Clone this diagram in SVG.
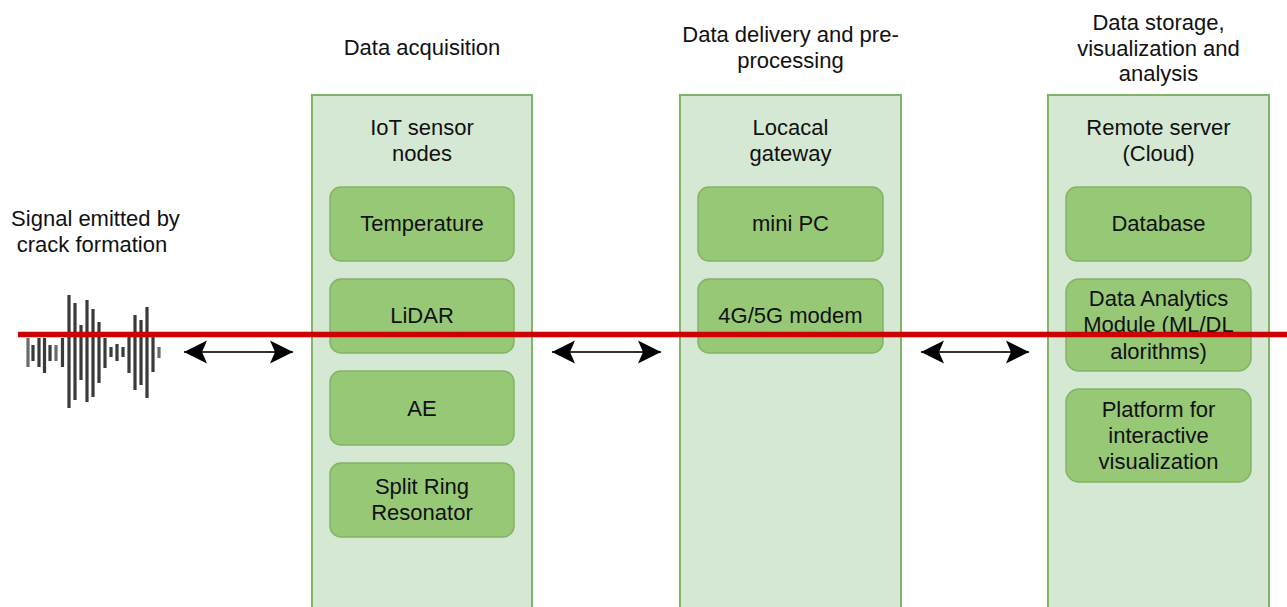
<svg xmlns="http://www.w3.org/2000/svg" width="1287" height="607" viewBox="0 0 1287 607">
  <defs>
    <style>
      text { font-family: "Liberation Sans", Arial, Helvetica, sans-serif; font-size: 22px; fill: #111; text-anchor: middle; }
      .lane { fill: #d5e8d4; stroke: #82b366; stroke-width: 2; }
      .box { fill: #97c876; stroke: #82b366; stroke-width: 1.5; }
      .link { stroke: #333; stroke-width: 2; fill: none; marker-start: url(#head); marker-end: url(#head); }
      .bar { stroke: #3a3a3a; stroke-width: 3.2; stroke-linecap: butt; }
      .bar.lt { stroke: #6a6a6a; }
    </style>
    <marker id="head" viewBox="-24 -12 26 24" refX="0" refY="0" markerWidth="26" markerHeight="24" markerUnits="userSpaceOnUse" orient="auto-start-reverse">
      <path d="M0,0 L-23,-11.5 L-18,0 L-23,11.5 Z" fill="#000"/>
    </marker>
  </defs>
  <rect width="1287" height="607" fill="#fff"/>

  <!-- signal source: acoustic burst -->
  <g id="signal">
    <text x="95.5" y="226">Signal emitted by</text>
    <text x="92" y="252">crack formation</text>
    <g id="waveform">
      <line class="bar lt" x1="28" y1="338" x2="28" y2="367"/>
      <line class="bar" x1="33" y1="345" x2="33" y2="361"/>
      <line class="bar" x1="39" y1="338" x2="39" y2="367"/>
      <line class="bar" x1="44.5" y1="338" x2="44.5" y2="373"/>
      <line class="bar" x1="50" y1="345" x2="50" y2="361"/>
      <line class="bar lt" x1="56" y1="345" x2="56" y2="361"/>
      <line class="bar" x1="62.5" y1="338" x2="62.5" y2="367"/>
      <line class="bar" x1="69" y1="295" x2="69" y2="408"/>
      <line class="bar" x1="75" y1="303" x2="75" y2="400"/>
      <line class="bar" x1="81" y1="325" x2="81" y2="380"/>
      <line class="bar" x1="87" y1="300" x2="87" y2="402"/>
      <line class="bar" x1="93" y1="309" x2="93" y2="397"/>
      <line class="bar" x1="99" y1="322" x2="99" y2="383"/>
      <line class="bar" x1="105" y1="338" x2="105" y2="368"/>
      <line class="bar" x1="111" y1="347" x2="111" y2="357"/>
      <line class="bar" x1="117" y1="344" x2="117" y2="361"/>
      <line class="bar" x1="123" y1="347" x2="123" y2="357"/>
      <line class="bar" x1="129" y1="337" x2="129" y2="373"/>
      <line class="bar" x1="135" y1="315" x2="135" y2="390"/>
      <line class="bar" x1="141" y1="320" x2="141" y2="385"/>
      <line class="bar" x1="147" y1="307" x2="147" y2="398"/>
      <line class="bar" x1="153" y1="337" x2="153" y2="372"/>
      <line class="bar lt" x1="159" y1="347" x2="159" y2="358"/>
    </g>
  </g>

  <!-- stage 1: data acquisition -->
  <g id="acquisition">
    <text x="422" y="55">Data acquisition</text>
    <rect class="lane" x="312" y="95" width="220" height="520"/>
    <text x="422" y="134.5">IoT sensor</text>
    <text x="422" y="161">nodes</text>
  </g>
  <g id="temperature">
    <rect class="box" x="330" y="187" width="184" height="74" rx="11"/>
    <text x="422" y="231">Temperature</text>
  </g>
  <g id="lidar">
    <rect class="box" x="330" y="279" width="184" height="74" rx="11"/>
    <text x="422" y="323">LiDAR</text>
  </g>
  <g id="ae">
    <rect class="box" x="330" y="371" width="184" height="74" rx="11"/>
    <text x="422" y="415.5">AE</text>
  </g>
  <g id="srr">
    <rect class="box" x="330" y="463" width="184" height="74" rx="11"/>
    <text x="422" y="494">Split Ring</text>
    <text x="422" y="520">Resonator</text>
  </g>

  <!-- stage 2: data delivery -->
  <g id="delivery">
    <text x="790.5" y="42">Data delivery and pre-</text>
    <text x="790.5" y="68">processing</text>
    <rect class="lane" x="680" y="95" width="221" height="520"/>
    <text x="790.5" y="134.5">Locacal</text>
    <text x="790.5" y="161">gateway</text>
  </g>
  <g id="minipc">
    <rect class="box" x="698" y="187" width="185" height="74" rx="11"/>
    <text x="790.5" y="231">mini PC</text>
  </g>
  <g id="modem">
    <rect class="box" x="698" y="279" width="185" height="74" rx="11"/>
    <text x="790.5" y="323">4G/5G modem</text>
  </g>

  <!-- stage 3: storage and analysis -->
  <g id="storage">
    <text x="1158.5" y="30">Data storage,</text>
    <text x="1158.5" y="55.5">visualization and</text>
    <text x="1158.5" y="81">analysis</text>
    <rect class="lane" x="1048" y="95" width="221" height="520"/>
    <text x="1158.5" y="134.5">Remote server</text>
    <text x="1158.5" y="161">(Cloud)</text>
  </g>
  <g id="database">
    <rect class="box" x="1066" y="187" width="185" height="74" rx="11"/>
    <text x="1158.5" y="231">Database</text>
  </g>
  <g id="analytics">
    <rect class="box" x="1066" y="279" width="185" height="92" rx="13"/>
    <text x="1158.5" y="305.5">Data Analytics</text>
    <text x="1158.5" y="332">Module (ML/DL</text>
    <text x="1158.5" y="358.5">alorithms)</text>
  </g>
  <g id="platform">
    <rect class="box" x="1066" y="389" width="185" height="93" rx="13"/>
    <text x="1158.5" y="416.5">Platform for</text>
    <text x="1158.5" y="443">interactive</text>
    <text x="1158.5" y="469">visualization</text>
  </g>

  <!-- connectors -->
  <g id="connectors">
    <line class="link" x1="184" y1="352" x2="293" y2="352"/>
    <line class="link" x1="552" y1="352" x2="661" y2="352"/>
    <line class="link" x1="921" y1="352" x2="1029" y2="352"/>
    <line id="signal-path" x1="18" y1="334.5" x2="1287" y2="334.5" stroke="#cc0000" stroke-width="5.5"/>
  </g>
</svg>
